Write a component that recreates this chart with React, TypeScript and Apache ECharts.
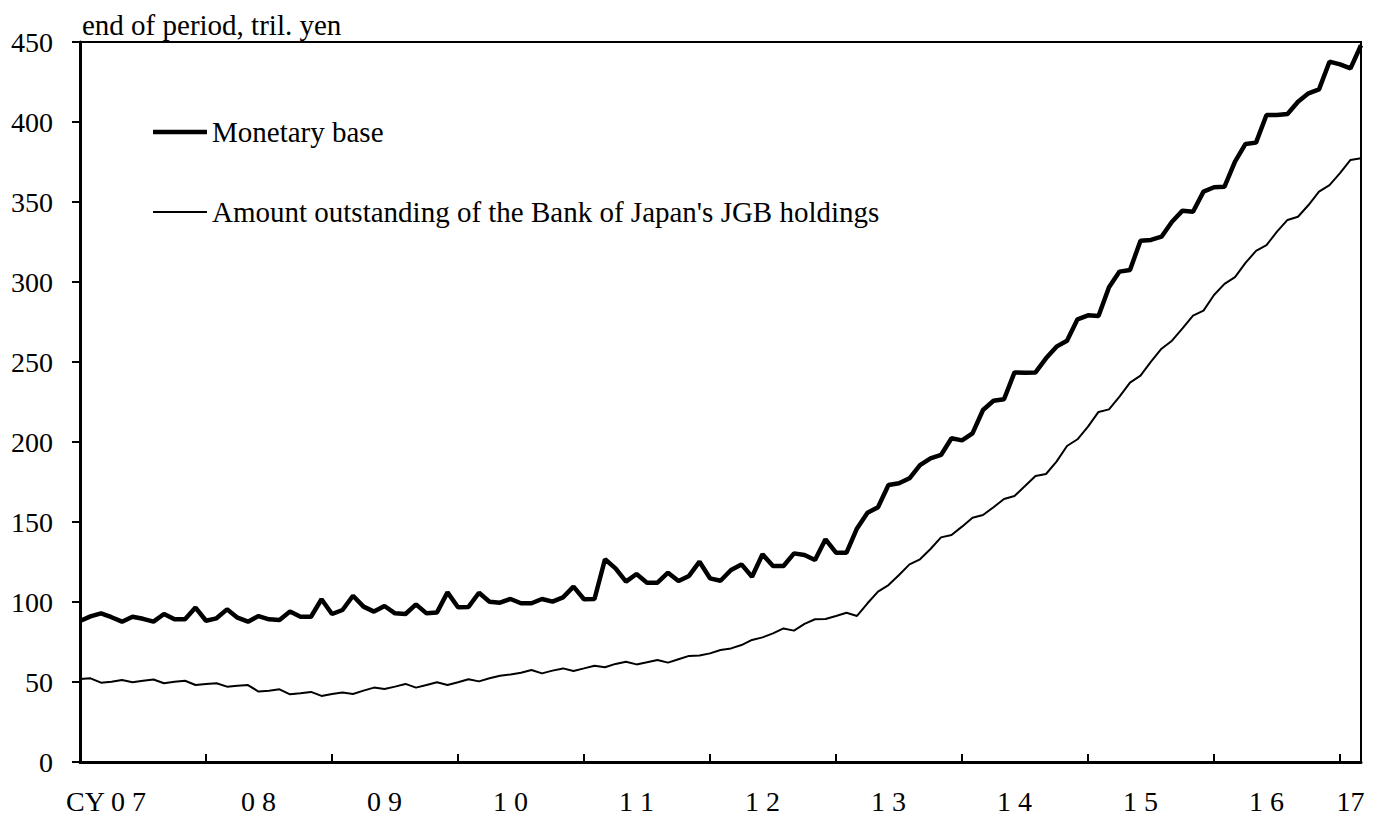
import React, { useEffect, useRef } from "react";
import * as echarts from "echarts";

const FONT = "'Liberation Serif', 'Times New Roman', serif";

// Monthly categories: Jan 2007 .. Mar 2017
const years = [2007, 2008, 2009, 2010, 2011, 2012, 2013, 2014, 2015, 2016, 2017];
const months: string[] = [];
for (const y of years) {
  for (let m = 1; m <= 12; m++) {
    if (y === 2017 && m > 3) break;
    months.push(`${y}/${m < 10 ? "0" + m : m}`);
  }
}

// Year tick labels shown under the axis
const yearTickLabels = ["CY 0 7", "0 8", "0 9", "1 0", "1 1", "1 2", "1 3", "1 4", "1 5", "1 6", "17"];

// Monetary base, end of period, tril. yen
const monetaryBase = [
  88.1, 91.0, 92.9, 90.5, 87.7, 90.8, 89.5, 87.7, 92.5, 89.2, 89.2, 96.5,
  88.3, 89.8, 95.4, 90.2, 87.7, 91.2, 89.2, 88.8, 94.0, 90.8, 90.8, 101.7,
  92.5, 95.0, 103.9, 97.1, 94.0, 97.5, 92.9, 92.5, 98.5, 92.9, 93.5, 106.0,
  96.7, 96.9, 105.8, 100.2, 99.6, 101.9, 99.2, 99.2, 101.9, 100.2, 102.9, 109.6,
  101.7, 101.9, 126.7, 121.0, 112.7, 117.5, 112.1, 112.1, 118.3, 113.1, 116.3, 125.2,
  114.8, 113.3, 120.0, 123.5, 115.8, 129.8, 122.5, 122.5, 130.4, 129.4, 126.3, 139.2,
  130.8, 130.8, 146.0, 155.8, 159.2, 173.1, 174.2, 177.3, 185.6, 189.8, 191.9, 202.3,
  201.0, 205.4, 220.0, 225.8, 226.7, 243.5, 243.3, 243.5, 252.3, 259.6, 263.3, 276.7,
  279.2, 278.8, 296.7, 306.5, 307.5, 325.8, 326.3, 328.3, 337.7, 344.6, 343.9, 356.5,
  359.2, 359.6, 375.2, 386.3, 387.1, 404.4, 404.4, 405.0, 412.7, 417.9, 420.4, 437.7,
  436.0, 433.5, 448.0,
];

// Amount outstanding of the Bank of Japan's JGB holdings, tril. yen
const jgbHoldings = [
  51.9, 52.3, 49.6, 50.2, 51.3, 49.8, 50.8, 51.6, 49.2, 50.2, 50.8, 48.1,
  48.8, 49.2, 47.1, 47.7, 48.1, 44.0, 44.6, 45.4, 42.3, 42.9, 43.8, 41.3,
  42.5, 43.5, 42.5, 44.6, 46.5, 45.6, 47.1, 48.8, 46.5, 48.1, 49.8, 48.1,
  49.8, 51.7, 50.4, 52.3, 53.9, 54.7, 55.8, 57.5, 55.4, 57.1, 58.5, 56.9,
  58.5, 60.2, 59.2, 61.3, 62.7, 61.0, 62.3, 63.8, 62.1, 64.2, 66.3, 66.5,
  67.9, 70.0, 71.0, 73.1, 76.3, 77.9, 80.4, 83.5, 82.1, 86.3, 89.2, 89.4,
  91.3, 93.3, 91.3, 99.2, 106.5, 110.6, 116.9, 123.5, 126.7, 133.1, 140.4, 141.9,
  147.1, 152.7, 154.4, 159.2, 164.4, 166.3, 172.5, 178.8, 180.0, 187.7, 197.5, 201.7,
  209.6, 218.8, 220.4, 228.3, 237.1, 241.5, 250.2, 258.3, 263.3, 271.0, 279.0, 282.1,
  291.9, 298.8, 303.0, 312.0, 319.4, 323.1, 331.5, 338.8, 340.8, 348.1, 356.5, 360.6,
  368.0, 376.3, 377.3,
];

const seriesNames = ["Monetary base", "Amount outstanding of the Bank of Japan's JGB holdings"];

export default function App() {
  const ref = useRef<HTMLDivElement>(null);

  useEffect(() => {
    if (!ref.current) return;
    const chart = echarts.init(ref.current, undefined, { renderer: "svg" });

    // map category index -> year label
    const labelAt: Record<number, string> = {};
    labelAt[3] = yearTickLabels[0];
    for (let k = 1; k < 10; k++) labelAt[12 * k + 5] = yearTickLabels[k];
    labelAt[121] = yearTickLabels[10];

    const catData = months.map((m, i) =>
      i === 3 ? { value: m, textStyle: { padding: [0, 11, 0, 0] } } : m
    );

    const textBase = { fontFamily: FONT, fontSize: 28, color: "#000" };
    const bigText = { fontFamily: FONT, fontSize: 29, color: "#000" };

    chart.setOption({
      animation: false,
      backgroundColor: "#fff",
      title: {
        text: "end of period, tril. yen",
        left: 82,
        top: 10,
        padding: 0,
        textStyle: { ...bigText, fontWeight: "normal" },
      },
      legend: [
        {
          data: [seriesNames[0]],
          left: 153,
          top: 117,
          padding: 0,
          icon: "rect",
          itemWidth: 54,
          itemHeight: 4.5,
          itemStyle: { color: "#000", borderWidth: 0 },
          lineStyle: { width: 0 },
          textStyle: { ...bigText, lineHeight: 30 },
          selectedMode: false,
        },
        {
          data: [seriesNames[1]],
          left: 153,
          top: 197,
          padding: 0,
          icon: "rect",
          itemWidth: 54,
          itemHeight: 2,
          itemStyle: { color: "#000", borderWidth: 0 },
          lineStyle: { width: 0 },
          textStyle: { ...bigText, lineHeight: 30 },
          selectedMode: false,
        },
      ],
      grid: {
        left: 80,
        right: 20,
        top: 42,
        bottom: 57,
        show: true,
        borderColor: "#000",
        borderWidth: 2,
        backgroundColor: "transparent",
      },
      xAxis: {
        type: "category",
        data: catData,
        boundaryGap: false,
        axisLine: { show: true, lineStyle: { color: "#000", width: 3 } },
        axisTick: {
          show: true,
          inside: true,
          length: 8,
          interval: (index: number) => index > 0 && index % 12 === 0,
          lineStyle: { color: "#000", width: 2 },
        },
        axisLabel: {
          ...textBase,
          margin: 25,
          interval: (index: number) => labelAt[index] !== undefined,
          formatter: (_v: string, index: number) => labelAt[index] ?? "",
        },
        splitLine: { show: false },
      },
      yAxis: {
        type: "value",
        min: 0,
        max: 450,
        interval: 50,
        axisLine: { show: true, lineStyle: { color: "#000", width: 3 } },
        axisTick: { show: true, inside: false, length: 8, lineStyle: { color: "#000", width: 2 } },
        axisLabel: { ...textBase, margin: 27 },
        splitLine: { show: false },
      },
      series: [
        {
          name: seriesNames[0],
          type: "line",
          data: monetaryBase,
          symbol: "none",
          lineStyle: { color: "#000", width: 4.5 },
          itemStyle: { color: "#000" },
          z: 3,
        },
        {
          name: seriesNames[1],
          type: "line",
          data: jgbHoldings,
          symbol: "none",
          lineStyle: { color: "#000", width: 2 },
          itemStyle: { color: "#000" },
          z: 2,
        },
      ],
    });

    return () => chart.dispose();
  }, []);

  return (
    <div
      ref={ref}
      style={{ position: "absolute", left: 0, top: 0, width: 1381, height: 819, background: "#fff" }}
    />
  );
}
